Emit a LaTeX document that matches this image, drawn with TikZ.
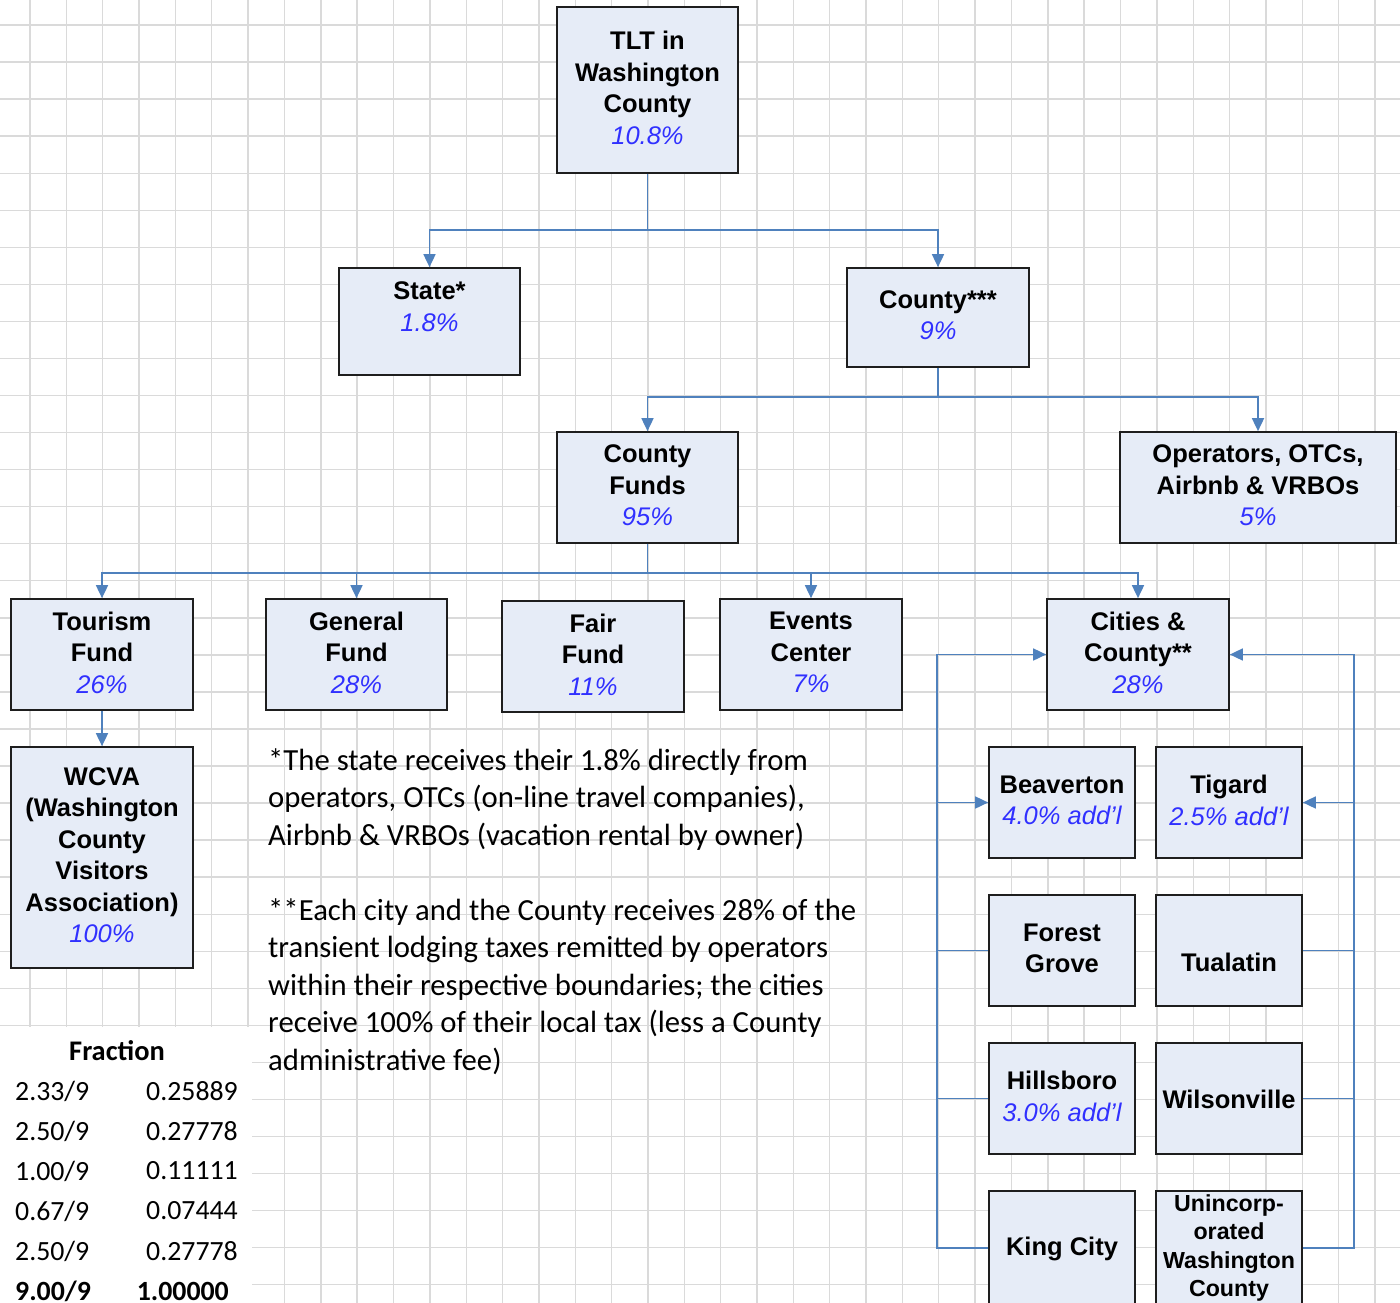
\documentclass[tikz,border=0pt]{standalone}
\usepackage{fontspec}
\setmainfont{Liberation Sans}
\newfontfamily\calib{Carlito}
\usetikzlibrary{arrows.meta,calc}
\definecolor{gridc}{RGB}{218,218,218}
\definecolor{connc}{RGB}{79,129,189}
\definecolor{boxfill}{RGB}{230,236,247}
\definecolor{boxline}{RGB}{30,30,30}
\definecolor{pctblue}{RGB}{48,48,255}
\newcommand\pc[1]{{\color{pctblue}\mdseries\itshape #1}}
\newcommand\toprule{\rule{0pt}{24pt}}
\newcommand\botrule{\rule[-4.4pt]{0pt}{4.4pt}}
\begin{document}
\begin{tikzpicture}[x=1pt,y=-1pt,
  box/.style={draw=boxline, line width=1.7pt, fill=boxfill, inner sep=0pt, align=center,
    font=\bfseries\fontsize{25.5}{31.5}\selectfont,
    execute at begin node=\toprule, execute at end node=\botrule},
  strutbox/.style={box, execute at begin node=\strut, execute at end node=\strut},
  smallbox/.style={box, font=\bfseries\fontsize{23.2}{28.5}\selectfont},
  conn/.style={draw=connc, line width=1.7pt},
  arr/.style={conn, -{Triangle[length=13pt,width=12pt]}},
  note/.style={font=\calib\fontsize{30.7}{37.5}\selectfont, align=left, anchor=base west, inner sep=0pt},
  tab/.style={font=\calib\fontsize{27.8}{33}\selectfont, inner sep=0pt},
  tabb/.style={tab, font=\calib\bfseries\fontsize{28.4}{33}\selectfont},
]
\useasboundingbox (0,0) rectangle (1400,1303);
\fill[white] (0,0) rectangle (1400,1303);
\clip (0,0) rectangle (1400,1303);
% grid
\foreach \k in {0,...,37} \draw[gridc, line width=1.4pt] ({30+36.35*\k},0) -- ({30+36.35*\k},1303);
\foreach \k in {0,...,34} \draw[gridc, line width=1.4pt] (0,{25+37.05*\k}) -- (1400,{25+37.05*\k});
\fill[white] (0,1027) rectangle (252,1303);

% boxes
\node[box, minimum width=181, minimum height=166] (tlt) at (647.5,90) {TLT in\\Washington\\County\\\pc{10.8\%}};
\node[box, minimum width=181, minimum height=107] (state) at (429.5,321.5) {State*\\\pc{1.8\%}\\[-6pt]\mbox{}};
\node[box, minimum width=182, minimum height=99] (cty) at (938,317.5) {County***\\\pc{9\%}};
\node[box, minimum width=181, minimum height=111] (cfunds) at (647.5,487.5) {County\\Funds\\\pc{95\%}};
\node[box, minimum width=276, minimum height=111] (oper) at (1258,487.5) {Operators, OTCs,\\Airbnb \& VRBOs\\\pc{5\%}};
\node[box, minimum width=182, minimum height=111] (tour) at (102,654.5) {Tourism\\Fund\\\pc{26\%}};
\node[box, minimum width=181, minimum height=111] (gen) at (356.5,654.5) {General\\Fund\\\pc{28\%}};
\node[box, minimum width=182, minimum height=111] (fair) at (593,656.5) {Fair\\Fund\\\pc{11\%}};
\node[box, minimum width=182, minimum height=111] (events) at (811,654.5) {Events\\Center\\\pc{7\%}};
\node[box, minimum width=182, minimum height=111] (cities) at (1138,654.5) {Cities \&\\County**\\\pc{28\%}};
\node[box, minimum width=182, minimum height=221] (wcva) at (102,857.5) {WCVA\\(Washington\\County\\Visitors\\Association)\\\pc{100\%}};
\node[box, minimum width=146, minimum height=111] (beav) at (1062,802.5) {Beaverton\\\pc{4.0\% add'l}};
\node[box, minimum width=146, minimum height=111] (tigard) at (1229,802.5) {Tigard\\\pc{2.5\% add'l}};
\node[box, minimum width=146, minimum height=111] (forest) at (1062,950.5) {Forest\\Grove};
\node[box, minimum width=146, minimum height=111] (tual) at (1229,950.5) {\raisebox{-11pt}[0pt][0pt]{Tualatin}};
\node[box, minimum width=146, minimum height=111] (hills) at (1062,1098.5) {Hillsboro\\\pc{3.0\% add'l}};
\node[box, minimum width=146, minimum height=111] (wilson) at (1229,1098.5) {Wilsonville};
\node[strutbox, minimum width=146, minimum height=114] (king) at (1062,1248) {King City};
\node[smallbox, minimum width=146, minimum height=114] (uninc) at (1229,1248) {Unincorp-\\orated\\Washington\\County};

% connectors
\draw[arr] (tlt.south) -- ++(0,56) -| (state.north);
\draw[arr] (tlt.south) -- ++(0,56) -| (cty.north);
\draw[arr] (cty.south) -- ++(0,29) -| (cfunds.north);
\draw[arr] (cty.south) -- ++(0,29) -| (oper.north);
\draw[arr] (cfunds.south) -- ++(0,29) -| (tour.north);
\draw[arr] (cfunds.south) -- ++(0,29) -| (gen.north);
\draw[arr] (cfunds.south) -- ++(0,29) -| (events.north);
\draw[arr] (cfunds.south) -- ++(0,29) -| (cities.north);
\draw[arr] (tour.south) -- (wcva.north);
% left bus
\draw[arr] (king.west) -- ++(-51,0) |- (cities.west);
\draw[arr] ($(beav.west)+(-51,0)$) -- (beav.west);
\draw[conn] (forest.west) -- ++(-51,0);
\draw[conn] (hills.west) -- ++(-51,0);
% right bus
\draw[arr] (uninc.east) -- ++(51,0) |- (cities.east);
\draw[arr] ($(tigard.east)+(51,0)$) -- (tigard.east);
\draw[conn] (tual.east) -- ++(51,0);
\draw[conn] (wilson.east) -- ++(51,0);

% notes (base = last line)
\node[note] (note1) at (268,845) {*The state receives their 1.8\% directly from\\operators, OTCs (on-line travel companies),\\Airbnb \& VRBOs (vacation rental by owner)};
\node[note] (note2) at (268,1070) {**Each city and the County receives 28\% of the\\transient lodging taxes remitted by operators\\within their respective boundaries; the cities\\receive 100\% of their local tax (less a County\\administrative fee)};

% fraction table
\node[tabb] (fr) at (117,1051) {Fraction};
\foreach \a/\b/\c [count=\i from 0] in {2.33/9/0.25889, 2.50/9/0.27778, 1.00/9/0.11111, 0.67/9/0.07444, 2.50/9/0.27778}{
  \node[tab, anchor=west] (l\i) at (15,{1091+40*\i}) {\a/\b};
  \node[tab, anchor=east] (r\i) at (238,{1091+40*\i}) {\c};
}
\node[tabb, anchor=west, font=\calib\bfseries\fontsize{27.8}{33}\selectfont] (l5) at (15,1291) {9.00/9};
\node[tabb, anchor=east, font=\calib\bfseries\fontsize{27.8}{33}\selectfont] (r5) at (229,1291) {1.00000};
\end{tikzpicture}
\end{document}
